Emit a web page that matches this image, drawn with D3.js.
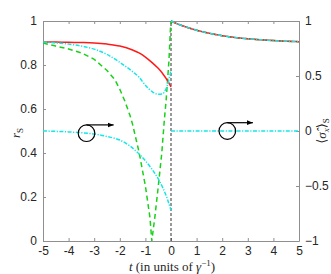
<!DOCTYPE html>
<html><head><meta charset="utf-8">
<script src="https://cdn.jsdelivr.net/npm/d3@7"></script>
<style>
html,body{margin:0;padding:0;background:#fff;}
svg{display:block;font-family:"Liberation Serif","DejaVu Serif",serif;}
</style></head>
<body><svg id="chart" width="331" height="274"></svg>
<script>
// ---- data ----
const xTicks = [-5,-4,-3,-2,-1,0,1,2,3,4,5];
const leftTicks = [0,0.2,0.4,0.6,0.8,1];
const rightTicks = [-1,-0.5,0,0.5,1];
const rightTickLabels = ["\u22121","\u22120.5","0","0.5","1"];

const tBefore = [-5,-4.5,-4,-3.5,-3,-2.5,-2,-1.5,-1.25,-1,-0.75,-0.5,-0.35,-0.2,-0.1,0];
const redBefore = [0.905,0.904,0.903,0.902,0.9,0.895,0.886,0.868,0.855,0.836,0.812,0.785,0.765,0.74,0.722,0.70];
const cyanBefore = [0.905,0.9,0.895,0.886,0.872,0.848,0.812,0.77,0.745,0.708,0.68,0.667,0.668,0.69,0.725,0.775];

const greenT = [-5,-4.5,-4,-3.5,-3,-2.5,-2.2,-2,-1.8,-1.6,-1.5,-1.25,-1,-0.82,-0.75,-0.625,-0.5,-0.36,-0.26,-0.19,-0.08,-0.02,0];
const greenV = [0.9,0.886,0.873,0.855,0.826,0.775,0.735,0.69,0.635,0.57,0.53,0.405,0.25,0.105,0,0.114,0.245,0.40,0.55,0.64,0.82,0.968,1.0];

const tAfter = [0,0.25,0.5,1,1.5,2,2.5,3,3.5,4,4.5,5];
const decayAfter = [1.0,0.987,0.976,0.958,0.944,0.933,0.925,0.919,0.915,0.911,0.908,0.906];

const sigmaT = [-5,-4.5,-4,-3.5,-3,-2.5,-2,-1.6,-1.2,-0.8,-0.45,-0.17,0];
const sigmaBefore = [0,-0.003,-0.008,-0.016,-0.028,-0.05,-0.082,-0.137,-0.22,-0.33,-0.455,-0.6,-0.72];
const sigmaAfterT = [0,5];
const sigmaAfter = [0,0];

// annotations (circle with arrow), in data units of left axis
const annoT = [-3.3,2.2];
const annoY = [0.49,0.5];
const annoArrowEndT = [-2.24,3.2];

// ---- layout ----
const m={l:43,r:299,t:21,b:241};
const svg=d3.select("#chart");
const x=d3.scaleLinear().domain([-5,5]).range([m.l,m.r]);
const yL=d3.scaleLinear().domain([0,1]).range([m.b,m.t]);
const yR=d3.scaleLinear().domain([-1,1]).range([m.b,m.t]);

const axisCol="#8f8f8f", textCol="#262626";

svg.append("defs").append("marker").attr("id","ah").attr("viewBox","0 0 10 10")
 .attr("refX",10).attr("refY",5).attr("markerWidth",6).attr("markerHeight",6)
 .attr("markerUnits","userSpaceOnUse").attr("orient","auto")
 .append("path").attr("d","M0,1 L10,5 L0,9 Z").attr("fill","#000");

function styleAxis(g){
  g.select(".domain").attr("stroke",axisCol).attr("stroke-width",1);
  g.selectAll(".tick line").attr("stroke",axisCol);
  g.selectAll(".tick text").attr("fill",textCol).style("font-size","12px");
}
const gB=svg.append("g").attr("transform",`translate(0,${m.b})`)
 .call(d3.axisBottom(x).tickValues(xTicks).tickSizeInner(-3).tickSizeOuter(0).tickPadding(5).tickFormat(d=>String(d)));
styleAxis(gB);
const gT=svg.append("g").attr("transform",`translate(0,${m.t})`)
 .call(d3.axisTop(x).tickValues(xTicks).tickSizeInner(-3).tickSizeOuter(0).tickFormat(""));
styleAxis(gT);
const gL=svg.append("g").attr("transform",`translate(${m.l},0)`)
 .call(d3.axisLeft(yL).tickValues(leftTicks).tickSizeInner(-3).tickSizeOuter(0).tickPadding(6).tickFormat(d=>String(d)));
styleAxis(gL);
const gR=svg.append("g").attr("transform",`translate(${m.r},0)`)
 .call(d3.axisRight(yR).tickValues(rightTicks).tickSizeInner(-3).tickSizeOuter(0).tickPadding(6)
   .tickFormat((d,i)=>rightTickLabels[i]));
styleAxis(gR);

svg.append("clipPath").attr("id","clip").append("rect")
 .attr("x",m.l).attr("y",m.t-2).attr("width",m.r-m.l).attr("height",m.b-m.t+3);
const plot=svg.append("g").attr("clip-path","url(#clip)");

const lineL=d3.line().x(d=>x(d[0])).y(d=>yL(d[1])).curve(d3.curveMonotoneX);
const lineLlin=d3.line().x(d=>x(d[0])).y(d=>yL(d[1]));
const lineR=d3.line().x(d=>x(d[0])).y(d=>yR(d[1])).curve(d3.curveMonotoneX);
const zip=(a,b)=>a.map((v,i)=>[v,b[i]]);

const green="#19d119", cyan="#14e6e6", red="#ff1a1a";
const dashDot="4,1.5,1.2,1.5";

plot.append("line").attr("x1",x(0)).attr("x2",x(0)).attr("y1",yL(0)).attr("y2",yL(1))
 .attr("stroke","#333").attr("stroke-width",1).attr("stroke-dasharray","3,2");

plot.append("path").datum(zip(greenT,greenV)).attr("d",lineLlin)
 .attr("fill","none").attr("stroke",green).attr("stroke-width",1.5).attr("stroke-dasharray","5,3.5");
plot.append("path").datum(zip(tAfter,decayAfter)).attr("d",lineL)
 .attr("fill","none").attr("stroke",green).attr("stroke-width",1.5).attr("stroke-dasharray","5,3.5");
plot.append("path").datum(zip(tBefore,redBefore)).attr("d",lineL)
 .attr("fill","none").attr("stroke",red).attr("stroke-width",1.5);
plot.append("path").datum(zip(tAfter,decayAfter)).attr("d",lineL)
 .attr("fill","none").attr("stroke",red).attr("stroke-width",1.5);
plot.append("path").datum(zip(tBefore,cyanBefore)).attr("d",lineL)
 .attr("fill","none").attr("stroke",cyan).attr("stroke-width",1.5).attr("stroke-dasharray",dashDot);
plot.append("path").datum(zip(tAfter,decayAfter)).attr("d",lineL)
 .attr("fill","none").attr("stroke",cyan).attr("stroke-width",1.5).attr("stroke-dasharray",dashDot);
plot.append("path").datum(zip(sigmaT,sigmaBefore)).attr("d",lineR)
 .attr("fill","none").attr("stroke",cyan).attr("stroke-width",1.5).attr("stroke-dasharray",dashDot);
plot.append("path").datum(zip(sigmaAfterT,sigmaAfter)).attr("d",lineR)
 .attr("fill","none").attr("stroke",cyan).attr("stroke-width",1.5).attr("stroke-dasharray",dashDot);

const R=8.3;
annoT.forEach((t,i)=>{
  const cx=x(t), cy=yL(annoY[i]);
  svg.append("circle").attr("cx",cx).attr("cy",cy).attr("r",R)
   .attr("fill","none").attr("stroke","#000").attr("stroke-width",1.2);
  svg.append("line").attr("x1",cx).attr("y1",cy-R).attr("x2",x(annoArrowEndT[i])).attr("y2",cy-R)
   .attr("stroke","#000").attr("stroke-width",1.2).attr("marker-end","url(#ah)");
});

const xl=svg.append("text").attr("x",(m.l+m.r)/2+1).attr("y",270.5).attr("text-anchor","middle")
 .attr("fill",textCol).style("font-size","13px");
xl.append("tspan").attr("font-style","italic").text("t");
xl.append("tspan").text(" (in units of ");
xl.append("tspan").attr("font-style","italic").text("\u03b3");
xl.append("tspan").attr("dy",-4.5).style("font-size","9px").text("\u22121");
xl.append("tspan").attr("dy",4.5).text(")");

const yl=svg.append("text").attr("transform",`translate(20,${(m.t+m.b)/2+2}) rotate(-90)`)
 .attr("text-anchor","middle").attr("fill",textCol).style("font-size","13px");
yl.append("tspan").attr("font-style","italic").text("r");
yl.append("tspan").attr("dy",2.5).style("font-size","9px").text("S");

const yr=svg.append("text").attr("transform",`translate(326,${(m.t+m.b)/2}) rotate(-90)`)
 .attr("text-anchor","middle").attr("fill",textCol).style("font-size","13px");
yr.append("tspan").text("\u27e8");
yr.append("tspan").attr("font-style","italic").text("\u03c3\u0302");
yr.append("tspan").attr("dy",2.5).attr("font-style","italic").style("font-size","9px").text("x");
yr.append("tspan").attr("dy",-2.5).text("\u27e9");
yr.append("tspan").attr("dy",2.5).style("font-size","9px").text("S");
</script></body></html>
